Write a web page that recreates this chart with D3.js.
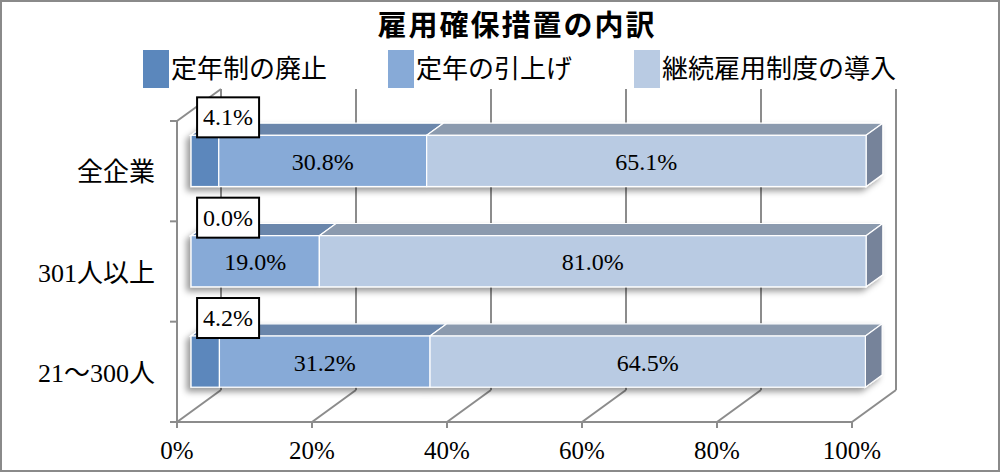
<!DOCTYPE html>
<html><head><meta charset="utf-8">
<script src="https://cdn.jsdelivr.net/npm/d3@7"></script>
<style>
html,body{margin:0;padding:0;background:#fff;}
svg{display:block;}
</style></head>
<body>
<script>
const title = "雇用確保措置の内訳";
const categories = ["全企業", "301人以上", "21～300人"];
const seriesNames = ["定年制の廃止", "定年の引上げ", "継続雇用制度の導入"];
const abolition = [4.1, 0.0, 4.2];
const raiseAge = [30.8, 19.0, 31.2];
const continued = [65.1, 81.0, 64.5];
const tickValues = [0, 20, 40, 60, 80, 100];
const tickLabels = ["0%", "20%", "40%", "60%", "80%", "100%"];

const frontColors = ["#5b87bc", "#87aad7", "#b9cbe3"];
const topColors = ["#6580a6", "#6a86ab", "#8b9aae"];
const sideColor = "#76839a";
const lineColor = "#8c8c8c";
const serif = "'Liberation Serif','Noto Sans CJK JP',serif";
const sans = "'Noto Sans CJK JP','Noto Sans',sans-serif";

const W = 1000, H = 472;
const svg = d3.select("body").append("svg").attr("width", W).attr("height", H);
const defs = svg.append("defs");
const f = defs.append("filter").attr("id", "sh").attr("x", "-10%").attr("y", "-40%").attr("width", "120%").attr("height", "180%");
f.append("feDropShadow").attr("dx", -4).attr("dy", 4).attr("stdDeviation", 3).attr("flood-color", "#000").attr("flood-opacity", 0.4);

svg.append("rect").attr("x", 1).attr("y", 1).attr("width", W - 2).attr("height", H - 2)
  .attr("fill", "#fff").attr("stroke", "#8a8a8a").attr("stroke-width", 2);

// Title
svg.append("text").attr("x", 517).attr("y", 36).attr("text-anchor", "middle")
  .attr("font-family", sans).attr("font-weight", "bold").attr("font-size", 29).attr("letter-spacing", 2)
  .attr("fill", "#000").text(title);

// Legend
const legendX = [143, 388, 634];
seriesNames.forEach((n, i) => {
  svg.append("rect").attr("x", legendX[i]).attr("y", 50).attr("width", 26).attr("height", 38).attr("fill", frontColors[i]);
  svg.append("text").attr("x", legendX[i] + 28).attr("y", 78).attr("font-family", sans)
    .attr("font-size", 26).attr("fill", "#000").text(n);
});

// Scales (front plane)
const x = d3.scaleLinear().domain([0, 100]).range([177, 852]);
const y = d3.scaleBand().domain(categories).range([121, 422]).padding(0);
const D = [44, -32];           // full depth of the box
const fo = 0.32, bo = 0.70;    // bar depth position fraction
const ox = D[0] * fo, oy = D[1] * fo;
const bx = D[0] * (bo - fo), by = D[1] * (bo - fo);
const barH = y.bandwidth() * 0.51;

const g = svg.append("g");
const ln = (x1, y1, x2, y2) => g.append("line").attr("x1", x1).attr("y1", y1).attr("x2", x2).attr("y2", y2)
  .attr("stroke", lineColor).attr("stroke-width", 2);

const y0 = y.range()[0], y1 = y.range()[1];
tickValues.forEach(v => ln(x(v) + D[0], y0 + D[1], x(v) + D[0], y1 + D[1]));
tickValues.forEach(v => ln(x(v), y1, x(v) + D[0], y1 + D[1]));
ln(x(0), y1, x(100), y1);
ln(x(0), y0, x(0), y1);
ln(x(0), y0, x(0) + D[0], y0 + D[1]);
tickValues.forEach(v => ln(x(v), y1, x(v), y1 + 6));
const bounds = [y0].concat(categories.map(c => y(c) + y.bandwidth()));
bounds.forEach(b => ln(x(0) - 7, b, x(0), b));

tickValues.forEach((v, i) => {
  svg.append("text").attr("x", x(v)).attr("y", 459).attr("text-anchor", "middle")
    .attr("font-family", serif).attr("font-size", 25).attr("fill", "#000").text(tickLabels[i]);
});
categories.forEach(c => {
  svg.append("text").attr("x", 155).attr("y", y(c) + y.bandwidth() / 2 + 10).attr("text-anchor", "end")
    .attr("font-family", serif).attr("font-size", 26).attr("fill", "#000").text(c);
});

const series = [abolition, raiseAge, continued];
categories.forEach((c, ci) => {
  const bg = svg.append("g").attr("filter", "url(#sh)");
  const top = y(c) + y.bandwidth() / 2 - barH / 2 + oy;
  let acc = 0;
  const segs = series.map((s, si) => { const a = acc; acc += s[ci]; return { si, s0: a, s1: acc, v: s[ci] }; })
    .filter(d => d.v > 0);
  segs.forEach(d => {
    const xa = x(d.s0) + ox, xb = x(d.s1) + ox;
    bg.append("polygon").attr("points", [[xa, top], [xb, top], [xb + bx, top + by], [xa + bx, top + by]].join(" "))
      .attr("fill", topColors[d.si]).attr("stroke", "#fff").attr("stroke-width", 1.2);
  });
  const last = segs[segs.length - 1];
  const xe = x(last.s1) + ox;
  bg.append("polygon").attr("points", [[xe, top], [xe + bx, top + by], [xe + bx, top + barH + by], [xe, top + barH]].join(" "))
    .attr("fill", sideColor).attr("stroke", "#fff").attr("stroke-width", 1.2);
  segs.forEach(d => {
    const xa = x(d.s0) + ox, xb = x(d.s1) + ox;
    bg.append("rect").attr("x", xa).attr("y", top).attr("width", xb - xa).attr("height", barH)
      .attr("fill", frontColors[d.si]).attr("stroke", "#fff").attr("stroke-width", 1.2);
  });
  segs.filter(d => d.si > 0).forEach(d => {
    svg.append("text").attr("x", (x(d.s0) + x(d.s1)) / 2 + ox).attr("y", top + barH / 2 + 9)
      .attr("text-anchor", "middle").attr("font-family", serif).attr("font-size", 24).attr("fill", "#000")
      .text(d.v.toFixed(1) + "%");
  });
  const cx = x(0) + ox + 37, cy = top - 18;
  svg.append("rect").attr("x", cx - 31).attr("y", cy - 20).attr("width", 62).attr("height", 40)
    .attr("fill", "#fff").attr("stroke", "#000").attr("stroke-width", 2);
  svg.append("text").attr("x", cx).attr("y", cy + 8).attr("text-anchor", "middle")
    .attr("font-family", serif).attr("font-size", 24).attr("fill", "#000").text(abolition[ci].toFixed(1) + "%");
});
</script>
</body></html>
